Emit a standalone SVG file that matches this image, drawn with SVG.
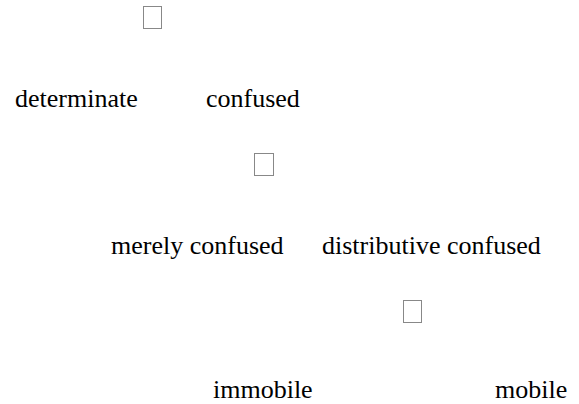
<svg xmlns="http://www.w3.org/2000/svg" width="579" height="404" viewBox="0 0 579 404">
<style>
text{font-family:"Liberation Serif","Times New Roman",serif;font-size:26px;fill:#000}
.box{fill:none;stroke:#888;stroke-width:1}
</style>
<rect width="579" height="404" fill="#fff"/>
<g id="root"><rect class="box" x="143.5" y="6.5" width="18" height="22"/></g>
<g id="determinate"><text x="15" y="107">determinate</text></g>
<g id="confused"><text x="206" y="107">confused</text></g>
<g id="confused-split"><rect class="box" x="254.5" y="153.5" width="19" height="22"/></g>
<g id="merely"><text x="111" y="254">merely confused</text></g>
<g id="distributive"><text x="322" y="254">distributive confused</text></g>
<g id="distributive-split"><rect class="box" x="403.5" y="300.5" width="18" height="22"/></g>
<g id="immobile"><text x="213" y="398">immobile</text></g>
<g id="mobile"><text x="495" y="398">mobile</text></g>
<g id="connectors"></g>
</svg>
